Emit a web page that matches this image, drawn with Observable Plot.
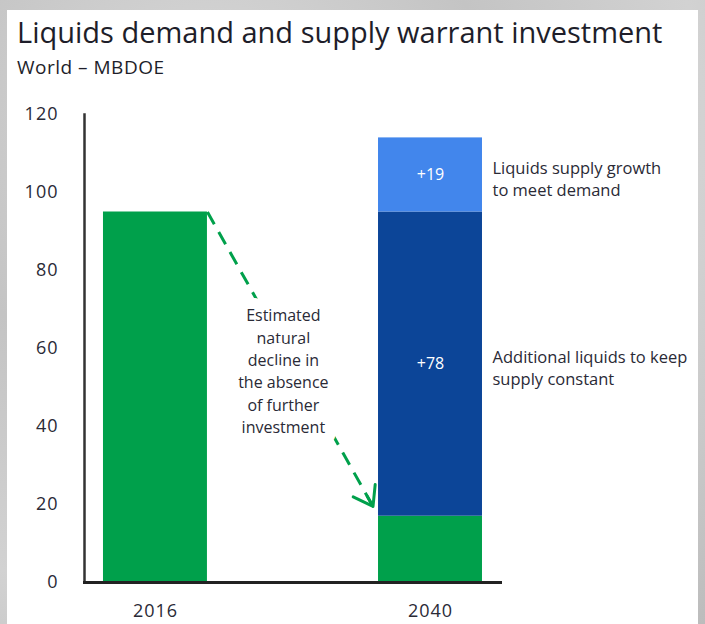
<!DOCTYPE html>
<html>
<head>
<meta charset="utf-8">
<script src="https://cdn.jsdelivr.net/npm/d3@7"></script>
<script src="https://cdn.jsdelivr.net/npm/@observablehq/plot@0.6"></script>
<style>
  html, body { margin: 0; padding: 0; }
  body {
    width: 705px; height: 624px; overflow: hidden; position: relative;
    background: radial-gradient(circle at 30% 20%, #d9d9d9 0%, #c4c4c4 40%, #d2d2d2 70%, #bcbcbc 100%);
    font-family: "Open Sans", sans-serif;
  }
  #panel { position: absolute; left: 7px; top: 10px; width: 691px; height: 620px; background: #fff; }
  #title { position: absolute; left: 17px; top: 14px; font-size: 29px; line-height: 36px; color: #1e1e2a; white-space: nowrap; }
  #subtitle { position: absolute; left: 17px; top: 55px; font-size: 19px; line-height: 24px; color: #1e1e2a; white-space: nowrap; letter-spacing: 0.5px; }
  #chart { position: absolute; left: 0; top: 90px; }
  #chart svg g[aria-label="y-axis tick label"] text,
  #chart svg g[aria-label="x-axis tick label"] text { letter-spacing: 1px; }
</style>
</head>
<body>
<div id="panel"></div>
<div id="title">Liquids demand and supply warrant investment</div>
<div id="subtitle">World – MBDOE</div>
<div id="chart"></div>
<script>
// Data
const categories = ["2016", "2040"];
const baseSupply = [95, 17];          // green: existing supply
const keepConstant = [0, 78];         // dark blue: additional to keep supply constant
const supplyGrowth = [0, 19];         // light blue: growth to meet demand
const segmentLabels = ["+78", "+19"];
const yTicks = [0, 20, 40, 60, 80, 100, 120];
const declineArrow = {from: 95, to: 19.5};
const declineText = "Estimated\nnatural\ndecline in\nthe absence\nof further\ninvestment";
const noteGrowth = "Liquids supply growth\nto meet demand";
const noteConstant = "Additional liquids to keep\nsupply constant";

const colors = {base: "#00a04b", constant: "#0c4598", growth: "#4286ec"};
const half = 0.189; // half bar width in category units

// Build stacked segments
const segments = [];
categories.forEach((c, i) => {
  let y = 0;
  [["base", baseSupply[i]], ["constant", keepConstant[i]], ["growth", supplyGrowth[i]]].forEach(([s, v]) => {
    if (v > 0) segments.push({cat: c, i, series: s, y1: y, y2: y + v, mid: y + v / 2});
    y += v;
  });
});
const labelled = segments.filter(d => d.series !== "base");
labelled.forEach((d, k) => d.label = segmentLabels[k]);

const arrowOpts = {x1: half, y1: d => d.from, x2: 1 - half - 0.02, y2: d => d.to, stroke: colors.base};

const plot = Plot.plot({
  width: 705,
  height: 534,
  marginLeft: 84,
  marginRight: 205,
  marginTop: 24,
  marginBottom: 42,
  style: {background: "transparent", fontFamily: "Open Sans, sans-serif", overflow: "visible"},
  x: {domain: [-0.258, 1.2545]},
  y: {domain: [0, 120]},
  marks: [
    Plot.rectY(segments, {
      x1: d => d.i - half, x2: d => d.i + half, y1: "y1", y2: "y2",
      fill: d => colors[d.series]
    }),
    Plot.link([declineArrow], {...arrowOpts, strokeWidth: 3, strokeDasharray: "14,9", insetEnd: 4}),
    Plot.arrow([declineArrow], {...arrowOpts, strokeWidth: 3, insetStart: 326, headLength: 11, headAngle: 70}),
    Plot.text([declineText], {
      x: 0.465, y: 54.5, text: d => d, lineAnchor: "middle", lineHeight: 1.4,
      fontSize: 16, fill: "#2a2a36", stroke: "white", strokeWidth: 22,
      strokeLinejoin: "round", paintOrder: "stroke"
    }),
    Plot.text(labelled, {
      x: "i", y: "mid", text: "label", fill: "white", fontSize: 16
    }),
    Plot.text([{t: noteGrowth, y: labelled[1].mid}, {t: noteConstant, y: labelled[0].mid}], {
      x: 1, y: "y", text: "t", dx: 62, dy: 3, textAnchor: "start", lineAnchor: "middle",
      lineHeight: 1.35, fontSize: 16.5, fill: "#2a2a36"
    }),
    Plot.axisY({ticks: yTicks, tickSize: 0, tickPadding: 26, fontSize: 18, fill: "#2a2a36", label: null}),
    Plot.axisX({ticks: categories.map((c, i) => i), tickFormat: i => categories[i], tickSize: 0, tickPadding: 22, fontSize: 18, fill: "#2a2a36", label: null}),
    Plot.frame({anchor: "left", stroke: "#333", strokeWidth: 2.5}),
    Plot.frame({anchor: "bottom", stroke: "#222", strokeWidth: 3})
  ]
});
document.getElementById("chart").append(plot);
</script>
</body>
</html>
